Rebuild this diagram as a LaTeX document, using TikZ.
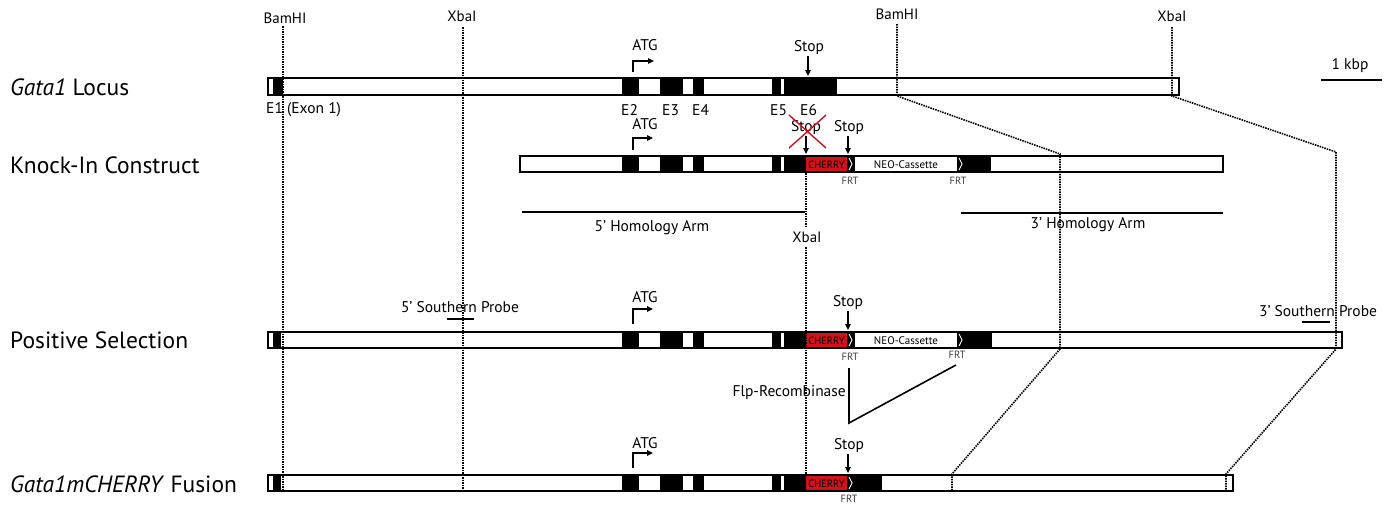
\documentclass[tikz,border=0pt]{standalone}
\usepackage{fontspec}
\setmainfont{PT Sans}
\usetikzlibrary{arrows.meta}
\definecolor{cherry}{RGB}{208,18,28}
\tikzset{
 lbl/.style={font=\fontsize{15.5}{15.5}\selectfont, inner sep=0pt},
 site/.style={font=\fontsize{15}{15}\selectfont, inner sep=0pt},
 big/.style={font=\fontsize{23.5}{23.5}\selectfont, inner sep=0pt, anchor=west},
 frt/.style={font=\fontsize{10.5}{10.5}\selectfont, inner sep=0pt, text=black!75},
 inbox/.style={font=\fontsize{10.5}{10.5}\selectfont, inner sep=0pt},
 bar/.style={draw=black, line width=1.8pt},
 dots/.style={line width=1.6pt, dash pattern=on 1.5pt off 1pt},
 ptr/.style={line width=1.2pt, -{Triangle[length=6pt,width=5.5pt]}},
 armline/.style={line width=1.2pt},
 chev/.style={white, line width=0.9pt},
}
\newcommand\commonexons[2]{%
  \foreach \a/\c in {622/639, 660/683, 693/704, 772/781, 784/806}
    \fill[black] (\a,#1) rectangle (\c,#2);}
\begin{document}
\begin{tikzpicture}[x=1pt,y=-1pt]
\useasboundingbox (0,0) rectangle (1386,504);

% ---------- left labels ----------
\node[big] (l1) at (10,87) {\textit{Gata1} Locus};
\node[big] (l2) at (10,165) {Knock-In Construct};
\node[big] (l3) at (10,340) {Positive Selection};
\node[big] (l4) at (10,484) {\textit{Gata1mCHERRY} Fusion};

% ---------- row 1: locus ----------
\fill[white] (268,78) rectangle (1179,95);
\fill[black] (273,78) rectangle (283,95);
\commonexons{78}{95}
\fill[black] (806,78) rectangle (837,95);
\draw[bar] (268,78) rectangle (1179,95);

% ---------- row 2: knock-in ----------
\fill[white] (520,156) rectangle (1223,172);
\commonexons{156}{172}
\fill[cherry] (806,156) rectangle (847,172);
\fill[black] (847,156) rectangle (855,172);
\draw[chev] (849,158) -- (852,164) -- (849,170);
\fill[black] (957,156) rectangle (991,172);
\draw[chev] (959,158) -- (962,164) -- (959,170);
\draw[bar] (520,156) rectangle (1223,172);
\node[inbox] (ch2) at (826.5,164.5) {CHERRY};
\node[inbox, font=\fontsize{11}{11}\selectfont] (neo2) at (906,164.5) {NEO-Cassette};

% ---------- row 3: positive selection ----------
\fill[white] (268,332) rectangle (1342,348);
\fill[black] (273,332) rectangle (281,348);
\commonexons{332}{348}
\fill[cherry] (806,332) rectangle (847,348);
\fill[black] (847,332) rectangle (855,348);
\draw[chev] (849,334) -- (852,340) -- (849,346);
\fill[black] (957,332) rectangle (992,348);
\draw[chev] (959,334) -- (962,340) -- (959,346);
\draw[bar] (268,332) rectangle (1342,348);
\node[inbox] (ch3) at (826.5,340.5) {CHERRY};
\node[inbox, font=\fontsize{11}{11}\selectfont] (neo3) at (906,340.5) {NEO-Cassette};

% ---------- row 4: fusion ----------
\fill[white] (268,475) rectangle (1233,491);
\fill[black] (273,475) rectangle (281,491);
\commonexons{475}{491}
\fill[cherry] (806,475) rectangle (847,491);
\fill[black] (847,475) rectangle (882,491);
\draw[chev] (849,477) -- (852,483) -- (849,489);
\draw[bar] (268,475) rectangle (1233,491);
\node[inbox] (ch4) at (826.5,483.5) {CHERRY};

% ---------- restriction sites ----------
\node[site] (bam1) at (285,18) {BamHI};
\node[site] (xba1) at (462,16) {XbaI};
\node[site] (bam2) at (897,14) {BamHI};
\node[site] (xba2) at (1172,16) {XbaI};
\node[site] (xba3) at (807,237) {XbaI};

\coordinate (b1t) at (283,26);  \coordinate (b1b) at (283,491);
\coordinate (x1t) at (463,27);  \coordinate (x1b) at (463,491);
\draw[dots] (b1t) -- (b1b);
\draw[dots] (x1t) -- (x1b);

\coordinate (b2a) at (897,24); \coordinate (b2b) at (897,96);
\coordinate (b2c) at (1060,154); \coordinate (b2d) at (1060,349);
\coordinate (b2e) at (952,474); \coordinate (b2f) at (952,491);
\draw[dots] (b2a) -- (b2b) -- (b2c) -- (b2d) -- (b2e) -- (b2f);

\coordinate (x2a) at (1172,27); \coordinate (x2b) at (1172,96);
\coordinate (x2c) at (1336,152); \coordinate (x2d) at (1336,349);
\coordinate (x2e) at (1226,474); \coordinate (x2f) at (1226,491);
\draw[dots] (x2a) -- (x2b) -- (x2c) -- (x2d) -- (x2e) -- (x2f);

\coordinate (x3a) at (806,173); \coordinate (x3b) at (806,228);
\coordinate (x3c) at (806,247); \coordinate (x3d) at (806,475);
\draw[dots] (x3a) -- (x3b);
\draw[dots] (x3c) -- (x3d);

% ---------- exon labels ----------
\node[lbl, anchor=west] (e1) at (266,110) {E1 (Exon 1)};
\node[lbl, anchor=west] (e2) at (621,110) {E2};
\node[lbl, anchor=west] (e3) at (662,110) {E3};
\node[lbl, anchor=west] (e4) at (692,110) {E4};
\node[lbl, anchor=west] (e5) at (770,110) {E5};
\node[lbl, anchor=west] (e6) at (800,110) {E6};

% ---------- ATG arrows ----------
\node[lbl] (atg1) at (645,45) {ATG};
\coordinate (a1s) at (633,72); \coordinate (a1c) at (633,61); \coordinate (a1e) at (654,61);
\draw[ptr] (a1s) -- (a1c) -- (a1e);
\node[lbl] (atg2) at (645,124) {ATG};
\coordinate (a2s) at (633,150); \coordinate (a2c) at (633,138); \coordinate (a2e) at (653,138);
\draw[ptr] (a2s) -- (a2c) -- (a2e);
\node[lbl] (atg3) at (645,297) {ATG};
\coordinate (a3s) at (633,324); \coordinate (a3c) at (633,309); \coordinate (a3e) at (653,309);
\draw[ptr] (a3s) -- (a3c) -- (a3e);
\node[lbl] (atg4) at (645,443) {ATG};
\coordinate (a4s) at (633,468); \coordinate (a4c) at (633,453); \coordinate (a4e) at (653,453);
\draw[ptr] (a4s) -- (a4c) -- (a4e);

% ---------- Stop arrows ----------
\node[lbl] (stop1) at (809,48) {Stop};
\coordinate (s1a) at (808,56); \coordinate (s1b) at (808,76);
\draw[ptr] (s1a) -- (s1b);
\node[lbl] (stop2x) at (806,128) {Stop};
\coordinate (s2a) at (806,136); \coordinate (s2b) at (806,154);
\draw[ptr] (s2a) -- (s2b);
\coordinate (xa) at (789,115); \coordinate (xb) at (826,148);
\coordinate (xc) at (826,115); \coordinate (xd) at (789,148);
\draw[cherry, line width=1.4pt] (xa) -- (xb) (xc) -- (xd);
\node[lbl] (stop2) at (849,128) {Stop};
\coordinate (s3a) at (848,136); \coordinate (s3b) at (848,154);
\draw[ptr] (s3a) -- (s3b);
\node[lbl] (stop3) at (848,303) {Stop};
\coordinate (s4a) at (848,311); \coordinate (s4b) at (848,330);
\draw[ptr] (s4a) -- (s4b);
\node[lbl] (stop4) at (849,446) {Stop};
\coordinate (s5a) at (848,454); \coordinate (s5b) at (848,473);
\draw[ptr] (s5a) -- (s5b);

% ---------- FRT labels ----------
\node[frt] (f21) at (850,181) {FRT};
\node[frt] (f22) at (958,181) {FRT};
\node[frt] (f31) at (850,357) {FRT};
\node[frt] (f32) at (957,355) {FRT};
\node[frt] (f41) at (849,499) {FRT};

% ---------- homology arms ----------
\coordinate (h5a) at (522,212); \coordinate (h5b) at (805,212);
\draw[armline] (h5a) -- (h5b);
\node[lbl] (h5) at (652,228) {5’ Homology Arm};
\coordinate (h3a) at (961,213); \coordinate (h3b) at (1223,213);
\draw[armline] (h3a) -- (h3b);
\node[lbl] (h3) at (1088,225) {3’ Homology Arm};

% ---------- southern probes ----------
\node[lbl] (p5) at (460,307) {5’ Southern Probe};
\coordinate (p5a) at (447,319); \coordinate (p5b) at (474,319);
\draw[line width=1.5pt] (p5a) -- (p5b);
\node[lbl] (p3) at (1318,311) {3’ Southern Probe};
\coordinate (p3a) at (1302,322); \coordinate (p3b) at (1330,322);
\draw[line width=1.5pt] (p3a) -- (p3b);

% ---------- Flp ----------
\node[lbl, anchor=east] (flp) at (846,393) {Flp-Recombinase};
\coordinate (fa) at (849,368); \coordinate (fb) at (849,423); \coordinate (fc) at (956,365);
\draw[line width=1.6pt] (fa) -- (fb) -- (fc);

% ---------- scale bar ----------
\node[lbl] (kbp) at (1350,66) {1 kbp};
\coordinate (ka) at (1321,80); \coordinate (kb) at (1382,80);
\draw[line width=2pt] (ka) -- (kb);
\end{tikzpicture}
\end{document}
